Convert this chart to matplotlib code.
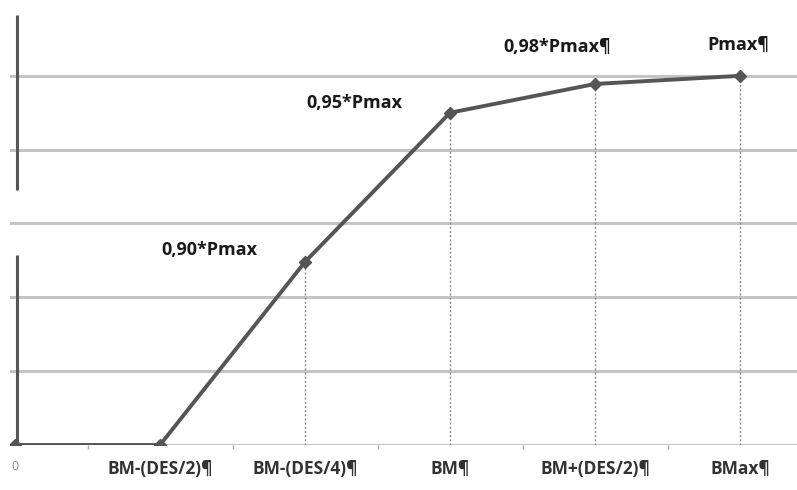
import numpy as np
import matplotlib.pyplot as plt

plt.rcParams['font.family'] = ['Open Sans', 'DejaVu Sans']

# category positions and tick labels
tick_labels = ['0', 'BM-(DES/2)¶', 'BM-(DES/4)¶', 'BM¶', 'BM+(DES/2)¶', 'BMax¶']
x_pos = np.arange(len(tick_labels))
# curve heights (in grid units)
y_vals = [0.0, 0.0, 2.48, 4.50, 4.89, 5.0]
point_labels = ['', '', '0,90*Pmax', '0,95*Pmax', '0,98*Pmax¶', 'Pmax¶']
label_offsets = [(0, 0), (0, 0), (-96, 12), (-96, 10), (-38, 37), (-2, 31)]

fig = plt.figure(figsize=(7.97, 4.9), dpi=100)
ax = fig.add_axes([10 / 797, 45 / 490, 787 / 797, 443 / 490])
ax.set_xlim(-5 / 145, 782 / 145)
ax.set_ylim(0, 6)

for s in ax.spines.values():
    s.set_visible(False)

# horizontal grid
for g in range(0, 6):
    ax.axhline(g, color='#c4c4c4', lw=2.2, zorder=1)

# left axis line (broken as in the original)
ax.vlines(0.012, 3.45, 5.83, color='#555555', lw=2.2, zorder=2)
ax.vlines(0.012, 0, 2.57, color='#555555', lw=2.2, zorder=2)

# dotted drop lines
for xv, yv in zip(x_pos[2:], y_vals[2:]):
    ax.vlines(xv, 0, yv, color='#888888', lw=1.0, linestyles=(0, (1.5, 1.5)), zorder=2)

ax.plot(x_pos, y_vals, color='#555555', lw=2.8, marker='D', ms=6,
        mfc='#555555', mec='#555555', zorder=3)

for xv, yv, txt, off in zip(x_pos, y_vals, point_labels, label_offsets):
    if txt:
        ax.annotate(txt, (xv, yv), xytext=off, textcoords='offset pixels',
                    ha='center', va='center', fontsize=13, fontweight='bold',
                    color='#1a1a1a')

ax.set_xticks(x_pos)
ax.set_xticklabels(tick_labels, fontsize=12.5, fontweight='bold', color='#333333')
ax.set_xticks(x_pos[:-1] + 0.5, minor=True)
ax.tick_params(axis='x', which='major', length=0, pad=11)
ax.tick_params(axis='x', which='minor', length=3, width=1, color='#aaaaaa')
lab0 = ax.get_xticklabels()[0]
lab0.set_fontweight('normal')
lab0.set_color('#888888')
lab0.set_fontsize(9)
ax.set_yticks([])

fig.savefig('out.png', dpi=100)
